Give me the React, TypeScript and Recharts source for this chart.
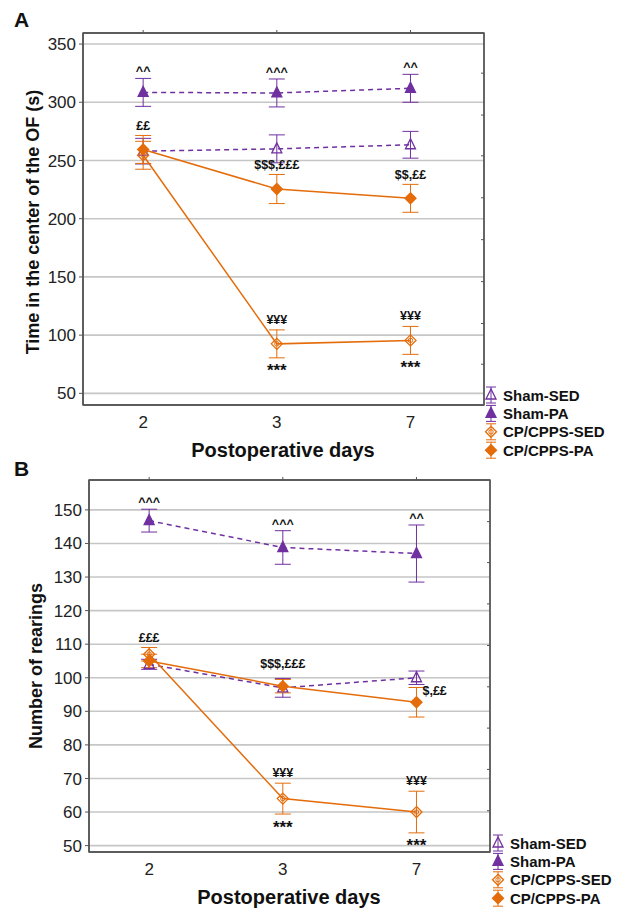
import React from "react";
import {
  LineChart,
  Line,
  XAxis,
  YAxis,
  CartesianGrid,
  ErrorBar,
  LabelList,
  ReferenceArea,
} from "recharts";

const DAYS = ["2", "3", "7"];
const GROUPS = ["Sham-SED", "Sham-PA", "CP/CPPS-SED", "CP/CPPS-PA"];

// panel A - time in the center of the OF (s)
const shamSedA = [258, 260, 263.5];
const shamSedErrA = [11, 12, 11.5];
const shamPaA = [308.5, 308, 312];
const shamPaErrA = [12, 12, 12];
const cpSedA = [254.5, 92.5, 95.5];
const cpSedErrA = [12, 12, 12];
const cpPaA = [259.5, 225.5, 217.5];
const cpPaErrA = [12, 12.5, 12];

const shamPaNoteA = ["^^", "^^^", "^^"];
const cpPaNoteA = ["££", "$$$,£££", "$$,££"];
const cpSedNoteA = ["", "¥¥¥", "¥¥¥"];
const cpSedStarsA = ["", "***", "***"];

const yTicksA = [50, 100, 150, 200, 250, 300, 350];
const rightTicksA = [75, 110, 146, 182, 218, 254, 289, 325];

// panel B - number of rearings
const shamSedB = [104, 97, 100];
const shamSedErrB = [1.5, 2.8, 2];
const shamPaB = [146.8, 138.8, 137];
const shamPaErrB = [3.4, 5, 8.5];
const cpSedB = [107, 64, 60];
const cpSedErrB = [2, 4.6, 6.2];
const cpPaB = [105, 97.5, 92.7];
const cpPaErrB = [2, 2, 4.4];

const shamPaNoteB = ["^^^", "^^^", "^^"];
const cpSedNoteB = ["£££", "¥¥¥", "¥¥¥"];
const cpSedStarsB = ["", "***", "***"];
const cpPaNoteB = ["", "$$$,£££", "$,££"];
const cpPaPlaceB = ["top", "top", "right"];

const yTicksB = [50, 60, 70, 80, 90, 100, 110, 120, 130, 140, 150];
const rightTicksB = [60.4, 72.7, 85, 97.3, 109.6, 122, 134.3, 146.5];

const PURPLE = "#7030A0";
const ORANGE = "#E46C0A";
const AXIS = "#555";
const GRID = "#c6c6c6";
const FONT = '"Liberation Sans", Arial, sans-serif';

const X_DOMAIN = [-0.45, 2.55];
const PLOT_H = 372;

const buildData = (sSed, sSedE, sPa, sPaE, cSed, cSedE, cPa, cPaE) =>
  DAYS.map((d, i) => ({
    idx: i,
    day: d,
    shamSed: sSed[i],
    shamSedErr: sSedE[i],
    shamPa: sPa[i],
    shamPaErr: sPaE[i],
    cpSed: cSed[i],
    cpSedErr: cSedE[i],
    cpPa: cPa[i],
    cpPaErr: cPaE[i],
  }));

const dataA = buildData(shamSedA, shamSedErrA, shamPaA, shamPaErrA, cpSedA, cpSedErrA, cpPaA, cpPaErrA);
const dataB = buildData(shamSedB, shamSedErrB, shamPaB, shamPaErrB, cpSedB, cpSedErrB, cpPaB, cpPaErrB);

function Marker({ cx, cy, kind }: { cx: number; cy: number; kind: number }) {
  if (kind === 0 || kind === 1) {
    const pts = `${cx},${cy - 6} ${cx - 5},${cy + 4} ${cx + 5},${cy + 4}`;
    return (
      <polygon
        points={pts}
        fill={kind === 1 ? PURPLE : "none"}
        stroke={PURPLE}
        strokeWidth={1.3}
      />
    );
  }
  const pts = `${cx},${cy - 5.5} ${cx + 5.5},${cy} ${cx},${cy + 5.5} ${cx - 5.5},${cy}`;
  return (
    <g>
      <polygon
        points={pts}
        fill={kind === 3 ? ORANGE : "none"}
        stroke={ORANGE}
        strokeWidth={1.3}
      />
      {kind === 2 && <circle cx={cx} cy={cy} r={2.2} fill="none" stroke={ORANGE} strokeWidth={1} />}
    </g>
  );
}

const dotFor = (kind: number) => (p: any) =>
  <Marker key={`m-${kind}-${p.index}`} cx={p.cx} cy={p.cy} kind={kind} />;

// annotation text placed just beyond the error bar
const noteFor =
  (texts: string[], errs: number[], k: number, pad: number, below = false, place?: string[], size = 12.5) =>
  (p: any) => {
    const t = texts[p.index];
    if (!t) return null;
    const x = Number(p.x);
    const y = Number(p.y);
    const common = {
      fontSize: size,
      fontWeight: 700,
      fill: "#111",
      fontFamily: FONT,
      dominantBaseline: "central" as const,
    };
    if (place && place[p.index] === "right") {
      return (
        <text key={`n-${p.index}`} x={x + 6} y={y - 11} textAnchor="start" {...common}>
          {t}
        </text>
      );
    }
    const off = errs[p.index] * k + pad;
    return (
      <text key={`n-${p.index}`} x={x} y={below ? y + off : y - off} textAnchor="middle" {...common}>
        {t}
      </text>
    );
  };

function Panel({
  data,
  domain,
  yTicks,
  rightTicks,
  leftW,
  rightM,
  topM,
  xAxisH,
  height,
  notes,
}: any) {
  const k = PLOT_H / (domain[1] - domain[0]);
  return (
    <LineChart
      width={620}
      height={height}
      data={data}
      margin={{ top: topM - 1, right: rightM - 1, bottom: 0, left: 0 }}
    >
      <CartesianGrid vertical={false} stroke={GRID} strokeWidth={1.6} />
      <XAxis
        dataKey="idx"
        type="number"
        domain={X_DOMAIN}
        ticks={[0, 1, 2]}
        interval={0}
        allowDataOverflow
        height={xAxisH}
        tickFormatter={(v) => DAYS[v]}
        tickLine={false}
        tickSize={0}
        tickMargin={11}
        axisLine={{ stroke: AXIS, strokeWidth: 1.6 }}
        tick={{ fontSize: 17, fill: "#222", fontFamily: FONT }}
      />
      <XAxis
        xAxisId="top"
        orientation="top"
        dataKey="idx"
        type="number"
        domain={X_DOMAIN}
        ticks={[0, 1, 2]}
        interval={0}
        allowDataOverflow
        height={1}
        tickSize={3}
        tickFormatter={() => ""}
        tickLine={{ stroke: AXIS }}
        axisLine={{ stroke: AXIS, strokeWidth: 1.3 }}
      />
      <YAxis
        domain={domain}
        ticks={yTicks}
        interval={0}
        allowDataOverflow
        width={leftW}
        tickSize={4}
        tickMargin={3}
        tickLine={{ stroke: AXIS }}
        axisLine={{ stroke: AXIS, strokeWidth: 1.6 }}
        tick={{ fontSize: 17, fill: "#222", fontFamily: FONT }}
      />
      <YAxis
        yAxisId="r"
        orientation="right"
        domain={domain}
        ticks={rightTicks}
        interval={0}
        allowDataOverflow
        width={1}
        mirror
        tickSize={3}
        tickFormatter={() => ""}
        tickLine={{ stroke: AXIS }}
        axisLine={{ stroke: AXIS, strokeWidth: 1.3 }}
      />
      <ReferenceArea
        x1={X_DOMAIN[0]}
        x2={X_DOMAIN[1]}
        y1={domain[0]}
        y2={domain[1]}
        fill="none"
        fillOpacity={0}
        stroke={AXIS}
        strokeWidth={1.4}
        ifOverflow="visible"
      />
      <Line
        dataKey="shamSed"
        stroke={PURPLE}
        strokeWidth={1.5}
        strokeDasharray="5 4"
        dot={dotFor(0)}
        isAnimationActive={false}
      >
        <ErrorBar dataKey="shamSedErr" direction="y" width={8} stroke={PURPLE} strokeWidth={1} />
      </Line>
      <Line
        dataKey="shamPa"
        stroke={PURPLE}
        strokeWidth={1.5}
        strokeDasharray="5 4"
        dot={dotFor(1)}
        isAnimationActive={false}
      >
        <ErrorBar dataKey="shamPaErr" direction="y" width={8} stroke={PURPLE} strokeWidth={1} />
        <LabelList dataKey="shamPa" content={noteFor(notes.shamPa, data.map((d: any) => d.shamPaErr), k, 7)} />
      </Line>
      <Line
        dataKey="cpSed"
        stroke={ORANGE}
        strokeWidth={1.5}
        dot={dotFor(2)}
        isAnimationActive={false}
      >
        <ErrorBar dataKey="cpSedErr" direction="y" width={8} stroke={ORANGE} strokeWidth={1} />
        <LabelList dataKey="cpSed" content={noteFor(notes.cpSed, data.map((d: any) => d.cpSedErr), k, 10)} />
        <LabelList
          dataKey="cpSed"
          content={noteFor(notes.cpSedStars, data.map((d: any) => d.cpSedErr), k, 13, true, undefined, 17)}
        />
      </Line>
      <Line
        dataKey="cpPa"
        stroke={ORANGE}
        strokeWidth={1.5}
        dot={dotFor(3)}
        isAnimationActive={false}
      >
        <ErrorBar dataKey="cpPaErr" direction="y" width={8} stroke={ORANGE} strokeWidth={1} />
        <LabelList
          dataKey="cpPa"
          content={noteFor(notes.cpPa, data.map((d: any) => d.cpPaErr), k, notes.cpPaPad, false, notes.cpPaPlace)}
        />
      </Line>
    </LineChart>
  );
}

function Legend({ x, y }: { x: number; y: number }) {
  return (
    <g>
      {GROUPS.map((g, i) => {
        const cy = y + i * 18.4;
        const col = i < 2 ? PURPLE : ORANGE;
        return (
          <g key={g}>
            <line x1={x} x2={x} y1={cy - 8} y2={cy + 8} stroke={col} strokeWidth={1} />
            <line x1={x - 5} x2={x + 5} y1={cy - 8} y2={cy - 8} stroke={col} strokeWidth={1} />
            <line x1={x - 5} x2={x + 5} y1={cy + 8} y2={cy + 8} stroke={col} strokeWidth={1} />
            <Marker cx={x} cy={cy} kind={i} />
            <text
              x={x + 12}
              y={cy}
              dominantBaseline="central"
              fontSize={15}
              fontWeight={700}
              fontFamily={FONT}
              fill="#111"
            >
              {g}
            </text>
          </g>
        );
      })}
    </g>
  );
}

export default function App() {
  const titleStyle = { fontFamily: FONT, fontWeight: 700, fill: "#111" };
  return (
    <div
      style={{
        position: "absolute",
        left: 0,
        top: 0,
        width: 620,
        height: 911,
        background: "#fff",
        fontFamily: FONT,
      }}
    >
      <div style={{ position: "absolute", left: 0, top: 0 }}>
        <Panel
          data={dataA}
          domain={[40, 359.5]}
          yTicks={yTicksA}
          rightTicks={rightTicksA}
          leftW={83}
          rightM={137}
          topM={33}
          xAxisH={55}
          height={460}
          notes={{
            shamPa: shamPaNoteA,
            cpPa: cpPaNoteA,
            cpPaPad: 9,
            cpSed: cpSedNoteA,
            cpSedStars: cpSedStarsA,
          }}
        />
      </div>
      <div style={{ position: "absolute", left: 0, top: 460 }}>
        <Panel
          data={dataB}
          domain={[48.1, 158.9]}
          yTicks={yTicksB}
          rightTicks={rightTicksB}
          leftW={89}
          rightM={131}
          topM={20}
          xAxisH={59}
          height={451}
          notes={{
            shamPa: shamPaNoteB,
            cpPa: cpPaNoteB,
            cpPaPad: 15,
            cpPaPlace: cpPaPlaceB,
            cpSed: cpSedNoteB,
            cpSedStars: cpSedStarsB,
          }}
        />
      </div>
      <svg
        width={620}
        height={911}
        style={{ position: "absolute", left: 0, top: 0, pointerEvents: "none" }}
      >
        <text x={14} y={27} fontSize={21} {...titleStyle}>
          A
        </text>
        <text x={14} y={476} fontSize={21} {...titleStyle}>
          B
        </text>
        <text
          x={33}
          y={222}
          fontSize={18}
          textAnchor="middle"
          dominantBaseline="central"
          transform="rotate(-90 33 222)"
          {...titleStyle}
        >
          Time in the center of the OF (s)
        </text>
        <text
          x={36}
          y={666}
          fontSize={18}
          textAnchor="middle"
          dominantBaseline="central"
          transform="rotate(-90 36 666)"
          {...titleStyle}
        >
          Number of rearings
        </text>
        <text x={283} y={450} fontSize={20} textAnchor="middle" dominantBaseline="central" {...titleStyle}>
          Postoperative days
        </text>
        <text x={289} y={897} fontSize={20} textAnchor="middle" dominantBaseline="central" {...titleStyle}>
          Postoperative days
        </text>
        <Legend x={491} y={395} />
        <Legend x={498} y={843} />
      </svg>
    </div>
  );
}
